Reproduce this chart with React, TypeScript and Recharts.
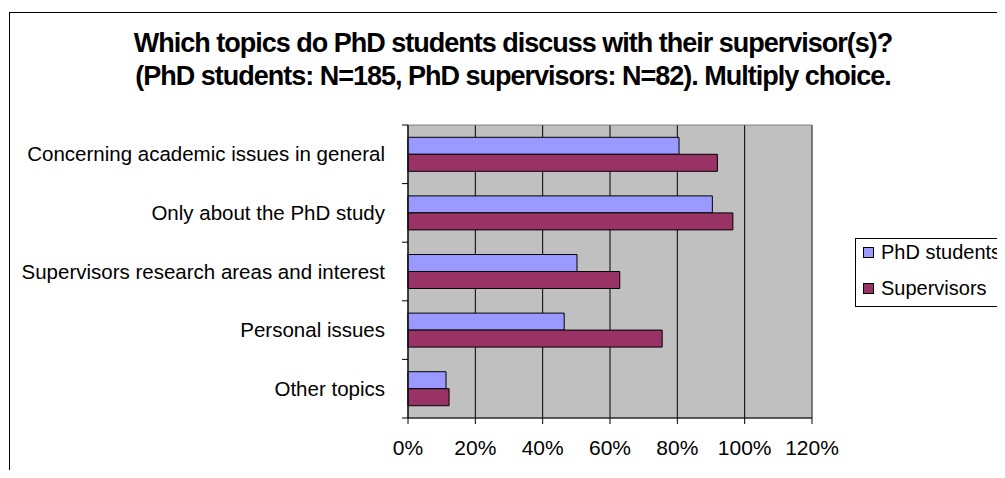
import { Bar, BarChart, CartesianGrid, ReferenceArea, XAxis, YAxis } from "recharts";

const CATEGORIES = [
  "Concerning academic issues in general",
  "Only about the PhD study",
  "Supervisors research areas and interest",
  "Personal issues",
  "Other topics",
];
const STUDENTS = [80.5, 90.4, 50.2, 46.4, 11.3];
const SUPERVISORS = [91.9, 96.5, 62.9, 75.5, 12.2];
const X_TICKS = [0, 20, 40, 60, 80, 100, 120];

const DATA = CATEGORIES.map((name, i) => ({
  name,
  students: STUDENTS[i],
  supervisors: SUPERVISORS[i],
}));

const FONT = "'Liberation Sans', Arial, sans-serif";
const BAND = 58.6;

function CategoryTick(props: any) {
  const { x, y, payload, index } = props;
  const last = index === CATEGORIES.length - 1;
  return (
    <g>
      <line x1={x - 6} x2={x} y1={y - BAND / 2} y2={y - BAND / 2} stroke="#000" />
      {last && <line x1={x - 6} x2={x} y1={y + BAND / 2} y2={y + BAND / 2} stroke="#000" />}
      <text
        x={x - 23}
        y={y}
        dy="0.35em"
        textAnchor="end"
        fontSize={20.5}
        fontFamily={FONT}
        fill="#000"
      >
        {payload.value}
      </text>
    </g>
  );
}

export default function App() {
  return (
    <div style={{ position: "relative", width: 1005, height: 478, margin: -8, overflow: "hidden", background: "#fff" }}>
      <div
        style={{
          position: "absolute",
          left: 9,
          top: 12,
          width: 1020,
          height: 500,
          border: "1px solid #000",
        }}
      />
      <div
        style={{
          position: "absolute",
          left: 0,
          top: 27,
          width: 1026,
          textAlign: "center",
          fontFamily: FONT,
          fontWeight: "bold",
          fontSize: 27,
          letterSpacing: -1,
          lineHeight: "33px",
        }}
      >
        Which topics do PhD students discuss with their supervisor(s)?
        <br />
        (PhD students: N=185, PhD supervisors: N=82). Multiply choice.
      </div>
      <div style={{ position: "absolute", left: 0, top: 0 }}>
        <BarChart
          width={1005}
          height={478}
          data={DATA}
          layout="vertical"
          margin={{ top: 125, right: 193, left: 0, bottom: 20 }}
          barCategoryGap="21%"
          barGap={0}
        >
          <CartesianGrid horizontal={false} stroke="#000" fill="#C0C0C0" fillOpacity={1} />
          <ReferenceArea x1={0} x2={120} fill="none" stroke="#808080" ifOverflow="visible" />
          <XAxis
            type="number"
            domain={[0, 120]}
            ticks={X_TICKS}
            tickFormatter={(v) => `${v}%`}
            height={40}
            tickSize={6}
            tickMargin={16}
            stroke="#000"
            tick={{ fill: "#000", fontSize: 21, fontFamily: FONT }}
          />
          <YAxis
            type="category"
            dataKey="name"
            width={408}
            tickSize={0}
            tickMargin={0}
            tickLine={false}
            stroke="#000"
            tick={<CategoryTick />}
            interval={0}
          />
          <Bar dataKey="students" fill="#9999FF" stroke="#000" strokeWidth={1} isAnimationActive={false} />
          <Bar dataKey="supervisors" fill="#993366" stroke="#000" strokeWidth={1} isAnimationActive={false} />
        </BarChart>
      </div>
      <div
        style={{
          position: "absolute",
          left: 855,
          top: 238,
          width: 200,
          height: 67,
          border: "1px solid #000",
          fontFamily: FONT,
          fontSize: 20,
        }}
      >
        {[
          { label: "PhD students", color: "#9999FF", top: 1 },
          { label: "Supervisors", color: "#993366", top: 37 },
        ].map((item) => (
          <div
            key={item.label}
            style={{ position: "absolute", left: 7, top: item.top, display: "flex", alignItems: "center", height: 24, whiteSpace: "nowrap" }}
          >
            <span
              style={{
                display: "inline-block",
                width: 9,
                height: 9,
                background: item.color,
                border: "1px solid #000",
                marginRight: 7,
              }}
            />
            {item.label}
          </div>
        ))}
      </div>
    </div>
  );
}
